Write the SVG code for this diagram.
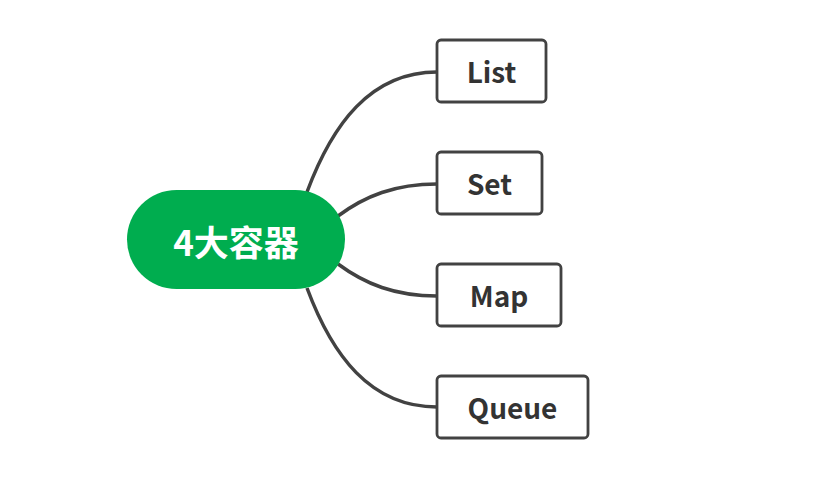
<svg xmlns="http://www.w3.org/2000/svg" width="832" height="492" viewBox="0 0 832 492">
<style>
.box{fill:#fff;stroke:#424242;stroke-width:2.8}
.lbl{font-family:"Noto Sans CJK SC","Open Sans",sans-serif;font-weight:bold;font-size:28px;fill:#333;text-anchor:middle;dominant-baseline:central}
.conn path{fill:none;stroke:#424242;stroke-width:3.5}
</style>
<rect width="832" height="492" fill="#fff"/>
<g class="conn" id="connectors">
<path d="M307 192 C332 125 370 72 437 72"/>
<path d="M338 216 C365 196 395 184 437 184"/>
<path d="M338 264 C365 284 395 296 437 296"/>
<path d="M307 288 C332 355 370 407 437 407"/>
</g>
<g id="root">
<rect x="127" y="190" width="218" height="99" rx="49.5" fill="#00ad4f"/>
<text x="236" y="240" font-family="Noto Sans CJK SC,sans-serif" font-weight="bold" font-size="35" fill="#fff" text-anchor="middle" dominant-baseline="central">4大容器</text>
</g>
<g id="list">
<rect class="box" x="437" y="40" width="109" height="62" rx="4"/>
<text class="lbl" x="491.5" y="71">List</text>
</g>
<g id="set">
<rect class="box" x="437" y="152" width="105" height="62" rx="4"/>
<text class="lbl" x="489.5" y="183">Set</text>
</g>
<g id="map">
<rect class="box" x="437" y="264" width="124" height="62" rx="4"/>
<text class="lbl" x="499" y="295">Map</text>
</g>
<g id="queue">
<rect class="box" x="437" y="376" width="151" height="62" rx="4"/>
<text class="lbl" x="512.5" y="407">Queue</text>
</g>
</svg>
